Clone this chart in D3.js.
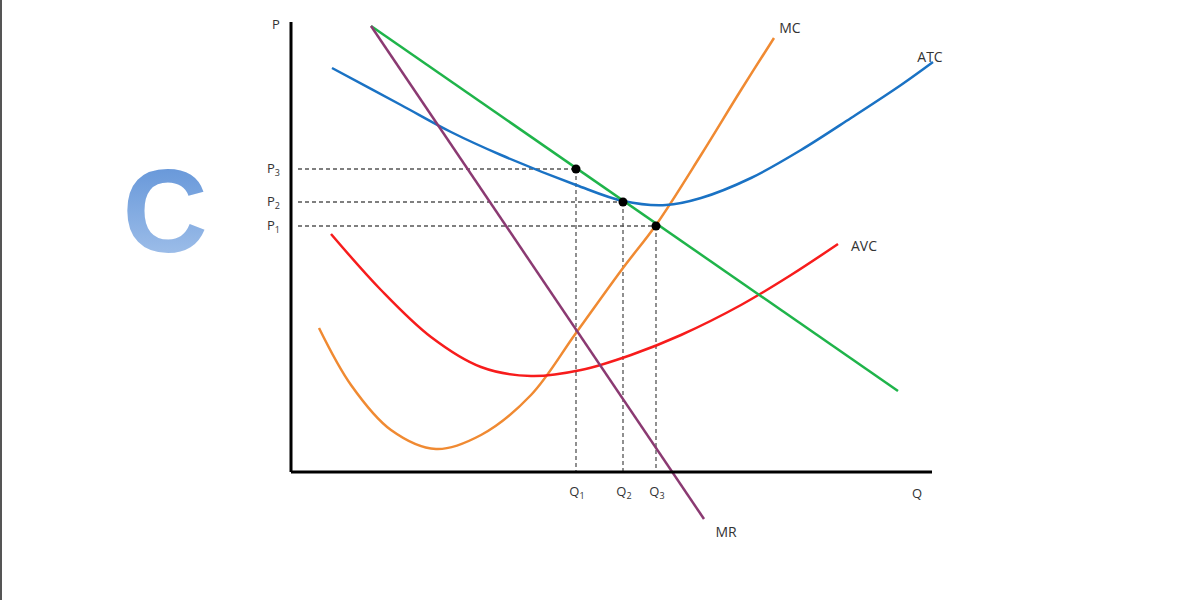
<!DOCTYPE html><html><head><meta charset="utf-8"><script src="https://cdn.jsdelivr.net/npm/d3@7"></script>
<style>body{margin:0;background:#fff}svg{display:block}text{font-family:"Open Sans","DejaVu Sans",sans-serif;fill:#333}</style></head><body>
<svg id="c" width="1204" height="600"></svg>
<script>
// data in chart units (Q from 0..640, P from 0..450)
const demand=[[79,446],[606,81]];
const mr=[[79,446],[412,-47]];
const atc=[[40,404],[109,367],[159,340],[209,317],[284,287],[331,271],[374,267],[409,274],[459,294],[509,322],[559,354],[609,387],[641,410]];
const avc=[[39,238],[89,182],[139,135],[189,105],[239,96],[289,102],[339,117],[389,137],[449,167],[499,197],[546,228]];
const mc=[[27,144],[59,87],[99,42],[144,23],[189,37],[239,77],[284,139],[331,204],[364,247],[409,317],[449,382],[482,434]];
const dots=[[284,303],[331,270],[364,246]];
const pLabels=["P₃","P₂","P₁"];
const qLabels=["Q","Q","Q"], qSubs=["1","2","3"];
const svg=d3.select("#c");
const x=d3.scaleLinear().domain([0,640]).range([292,932]);
const y=d3.scaleLinear().domain([0,450]).range([472,22]);
svg.append("rect").attr("x",0).attr("y",0).attr("width",2).attr("height",600).attr("fill","#555");
const g=svg.append("defs").append("linearGradient").attr("id","gr").attr("x1",0).attr("y1",0).attr("x2",0).attr("y2",1);
g.append("stop").attr("offset",0).attr("stop-color","#5b8fd6");g.append("stop").attr("offset",1).attr("stop-color","#a9c6ec");
svg.append("text").attr("x",165).attr("y",252).attr("text-anchor","middle").style("font-family","Liberation Sans").style("font-weight","bold").style("font-size","118px").style("fill","url(#gr)").text("C");
const line=d3.line().x(d=>x(d[0])).y(d=>y(d[1]));
const curve=d3.line().x(d=>x(d[0])).y(d=>y(d[1])).curve(d3.curveCatmullRom);
// dashed guides
dots.forEach(d=>{
 svg.append("line").attr("x1",x(6)).attr("x2",x(d[0])).attr("y1",y(d[1])).attr("y2",y(d[1])).attr("stroke","#555").attr("stroke-dasharray","4,3").attr("stroke-width",1.3);
 svg.append("line").attr("x1",x(d[0])).attr("x2",x(d[0])).attr("y1",y(d[1])).attr("y2",y(0)).attr("stroke","#555").attr("stroke-dasharray","4,3").attr("stroke-width",1.3);
});
svg.append("path").attr("d",curve(mc)).attr("fill","none").attr("stroke","#f08a32").attr("stroke-width",2.5);
svg.append("path").attr("d",curve(avc)).attr("fill","none").attr("stroke","#f71c1c").attr("stroke-width",2.5);
svg.append("path").attr("d",curve(atc)).attr("fill","none").attr("stroke","#1a72c4").attr("stroke-width",2.5);
svg.append("path").attr("d",line(demand)).attr("fill","none").attr("stroke","#1fb44a").attr("stroke-width",2.5);
svg.append("path").attr("d",line(mr)).attr("fill","none").attr("stroke","#8b3a72").attr("stroke-width",2.5);
// axes
svg.append("line").attr("x1",x(-1)).attr("x2",x(-1)).attr("y1",y(450)).attr("y2",y(0)).attr("stroke","#000").attr("stroke-width",3);
svg.append("line").attr("x1",x(-1)).attr("x2",x(640)).attr("y1",y(0)).attr("y2",y(0)).attr("stroke","#000").attr("stroke-width",3);
svg.selectAll(".dot").data(dots).join("circle").attr("cx",d=>x(d[0])).attr("cy",d=>y(d[1])).attr("r",4.5).attr("fill","#000");
const fs="13px";
svg.append("text").attr("x",276).attr("y",29).attr("text-anchor","middle").style("font-size",fs).text("P");
dots.forEach((d,i)=>{
 const t=svg.append("text").attr("x",280).attr("y",y(d[1])+4).attr("text-anchor","end").style("font-size",fs);
 t.append("tspan").text("P");t.append("tspan").attr("dy",3).style("font-size","9px").text(qSubs[2-i]);
 const q=svg.append("text").attr("x",x(d[0])+1).attr("y",496).attr("text-anchor","middle").style("font-size",fs);
 q.append("tspan").text(qLabels[i]);q.append("tspan").attr("dy",3).style("font-size","9px").text(qSubs[i]);
});
svg.append("text").attr("x",917).attr("y",498).attr("text-anchor","middle").style("font-size",fs).text("Q");
svg.append("text").attr("x",790).attr("y",33).attr("text-anchor","middle").style("font-size","14px").text("MC");
svg.append("text").attr("x",930).attr("y",62).attr("text-anchor","middle").style("font-size","14px").text("ATC");
svg.append("text").attr("x",864).attr("y",251).attr("text-anchor","middle").style("font-size","14px").text("AVC");
svg.append("text").attr("x",726).attr("y",537).attr("text-anchor","middle").style("font-size","14px").text("MR");
</script></body></html>
